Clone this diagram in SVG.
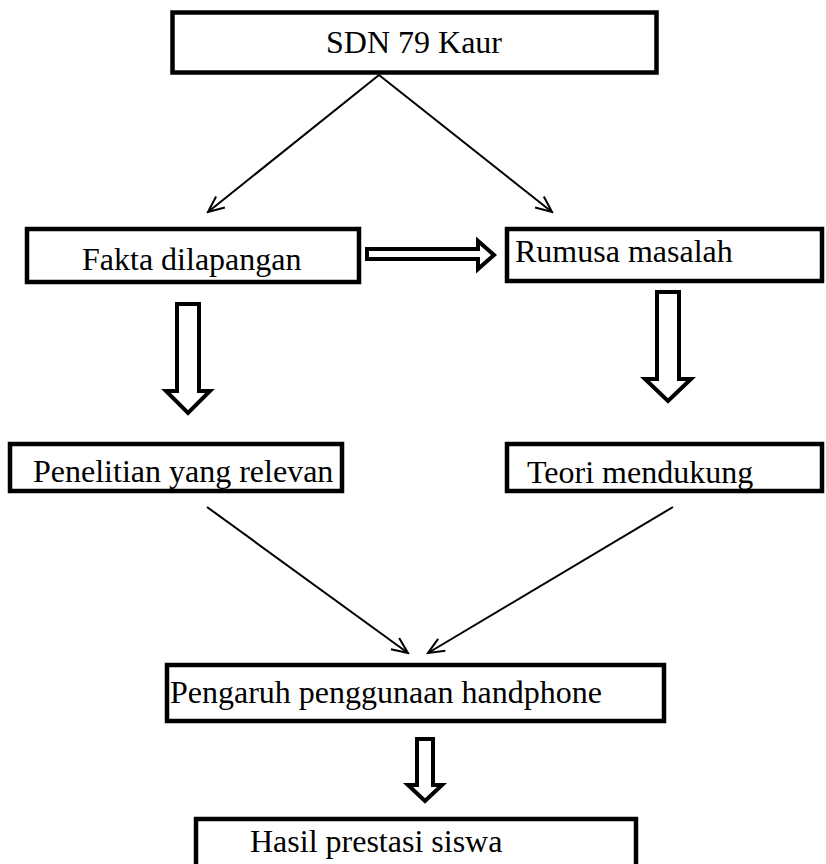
<svg xmlns="http://www.w3.org/2000/svg" width="826" height="864" viewBox="0 0 826 864">
<style>
.box{fill:#fff;stroke:#000;stroke-width:4.5}
.lbl{font-family:"Liberation Serif","Times New Roman",serif;font-size:32px;fill:#000}
.ln{fill:none;stroke:#000;stroke-width:2}
.hollow{fill:#fff;stroke:#000;stroke-width:4;stroke-linejoin:miter;stroke-miterlimit:10}
</style>
<defs>
<marker id="open" viewBox="0 0 20 20" refX="18" refY="10" markerWidth="20" markerHeight="20" markerUnits="userSpaceOnUse" orient="auto">
<path d="M2,3 L18,10 L2,17" fill="none" stroke="#000" stroke-width="2"/>
</marker>
</defs>
<rect width="826" height="864" fill="#fff"/>
<g id="connectors">
<line class="ln" x1="379" y1="75" x2="208" y2="212" marker-end="url(#open)"/>
<line class="ln" x1="379" y1="75" x2="552" y2="212" marker-end="url(#open)"/>
<line class="ln" x1="207" y1="507" x2="408" y2="653" marker-end="url(#open)"/>
<line class="ln" x1="673" y1="507" x2="428" y2="653" marker-end="url(#open)"/>
<polygon class="hollow" points="367,249 478,249 478,241 494,255 478,269 478,259 367,259"/>
<polygon class="hollow" points="177,304 199,304 199,391 210,391 188,413 166,391 177,391"/>
<polygon class="hollow" points="657,292 679,292 679,379 691,379 668,401 645,379 657,379"/>
<polygon class="hollow" points="417,739 433,739 433,785 442,785 425,801 408,785 417,785"/>
</g>
<g id="n-sdn">
<rect class="box" x="172.5" y="12.5" width="484" height="60"/>
<text class="lbl" x="326" y="53">SDN 79 Kaur</text>
</g>
<g id="n-fakta">
<rect class="box" x="27" y="229" width="332" height="53"/>
<text class="lbl" x="82" y="270">Fakta dilapangan</text>
</g>
<g id="n-rumusa">
<rect class="box" x="507" y="229" width="315" height="52"/>
<text class="lbl" x="515" y="262">Rumusa masalah</text>
</g>
<g id="n-penelitian">
<rect class="box" x="10" y="444" width="332" height="47"/>
<text class="lbl" x="33" y="482">Penelitian yang relevan</text>
</g>
<g id="n-teori">
<rect class="box" x="507" y="444" width="315" height="47"/>
<text class="lbl" x="527" y="483">Teori mendukung</text>
</g>
<g id="n-pengaruh">
<rect class="box" x="167" y="665" width="497" height="56"/>
<text class="lbl" x="170" y="703">Pengaruh penggunaan handphone</text>
</g>
<g id="n-hasil">
<rect class="box" x="196" y="819" width="440" height="60"/>
<text class="lbl" x="250" y="852">Hasil prestasi siswa</text>
</g>
</svg>
